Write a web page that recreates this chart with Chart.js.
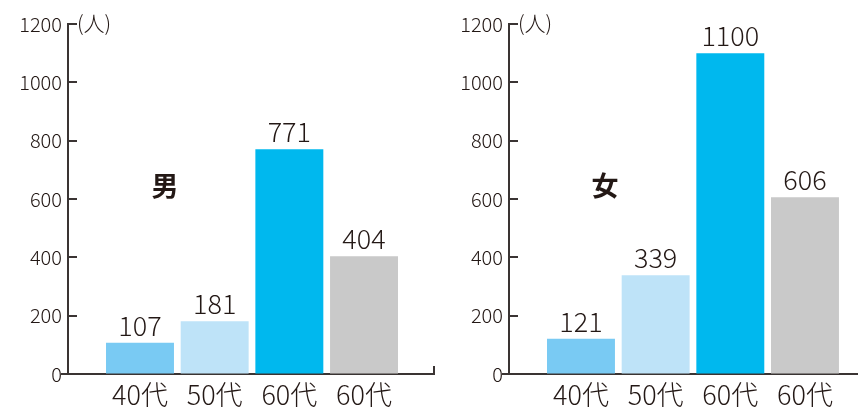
<!DOCTYPE html>
<html>
<head>
<meta charset="utf-8">
<script src="https://cdn.jsdelivr.net/npm/chart.js@4"></script>
<style>
  body { margin: 0; background: #fff; }
  canvas { position: absolute; top: 0; }
</style>
</head>
<body>
<canvas id="maleChart" width="440" height="409" style="left:0"></canvas>
<canvas id="femaleChart" width="418" height="409" style="left:440px"></canvas>
<script>
var ageLabels = ['40代', '50代', '60代', '60代'];
var maleValues = [107, 181, 771, 404];
var femaleValues = [121, 339, 1100, 606];
var yTicks = [0, 200, 400, 600, 800, 1000, 1200];
var unitLabel = '(人)';

var barColors = ['#79caf3', '#bee3f8', '#00b8ee', '#c9c9c9'];
var axisColor = '#3a3433';
var textColor = '#231815';
var fontFamily = '"Noto Sans CJK JP", "Noto Sans", sans-serif';

function makeChart(id, values, title, opts) {
    var decor = {
        id: 'decor',
        afterDatasetsDraw: function (chart) {
            var ctx = chart.ctx;
            var meta = chart.getDatasetMeta(0);
            ctx.save();
            ctx.font = '300 27px ' + fontFamily;
            ctx.fillStyle = textColor;
            ctx.textAlign = 'center';
            ctx.textBaseline = 'alphabetic';
            meta.data.forEach(function (bar, i) {
                ctx.fillText(String(values[i]), bar.x, bar.y - 7);
            });
            ctx.restore();
        },
        afterDraw: function (chart) {
            var ctx = chart.ctx;
            var y = chart.scales.y;
            var area = chart.chartArea;
            ctx.save();
            ctx.strokeStyle = axisColor;
            ctx.lineWidth = 2;
            ctx.beginPath();
            y.ticks.forEach(function (t) {
                var py = Math.round(y.getPixelForValue(t.value));
                ctx.moveTo(area.left - 1, py);
                ctx.lineTo(area.left + 9, py);
            });
            ctx.moveTo(area.left - 7, area.bottom);
            ctx.lineTo(area.left, area.bottom);
            if (opts.endTick) {
                ctx.moveTo(area.right, area.bottom + 1);
                ctx.lineTo(area.right, area.bottom - 8);
            }
            ctx.stroke();

            ctx.fillStyle = textColor;
            ctx.font = '300 21px ' + fontFamily;
            ctx.textAlign = 'left';
            ctx.textBaseline = 'middle';
            ctx.fillText(unitLabel, area.left + 9, y.getPixelForValue(1200) - 1);

            ctx.font = 'bold 27px ' + fontFamily;
            ctx.textAlign = 'center';
            ctx.fillText(title, 165, 186);
            ctx.restore();
        }
    };

    return new Chart(document.getElementById(id), {
        type: 'bar',
        data: {
            datasets: [{
                data: values.map(function (v, i) { return { x: i, y: v }; }),
                backgroundColor: barColors,
                barPercentage: 0.91,
                categoryPercentage: 1
            }]
        },
        options: {
            responsive: false,
            animation: false,
            layout: { padding: { top: 24, right: opts.padRight, left: 0, bottom: 0 } },
            plugins: { legend: { display: false }, tooltip: { enabled: false } },
            scales: {
                x: {
                    type: 'linear',
                    offset: false,
                    min: -0.964,
                    max: opts.xMax,
                    afterFit: function (s) { s.height = 35; },
                    grid: { display: true, drawOnChartArea: false, drawTicks: false, offset: false },
                    border: { color: axisColor, width: 2 },
                    ticks: {
                        stepSize: 1,
                        includeBounds: false,
                        autoSkip: false,
                        maxRotation: 0,
                        padding: 5,
                        color: textColor,
                        font: { family: fontFamily, size: 27, weight: 300 },
                        callback: function (v) {
                            return Number.isInteger(v) && ageLabels[v] ? ageLabels[v] : '';
                        }
                    }
                },
                y: {
                    min: 0,
                    max: 1200,
                    afterFit: function (s) { s.width = opts.axisLeft; },
                    afterBuildTicks: function (s) {
                        s.ticks = yTicks.map(function (v) { return { value: v }; });
                    },
                    grid: { display: true, drawOnChartArea: false, drawTicks: false },
                    border: { color: axisColor, width: 2 },
                    ticks: {
                        padding: 6,
                        color: textColor,
                        font: { family: fontFamily, size: 20, weight: 300 },
                        callback: function (v) { return String(v); }
                    }
                }
            }
        },
        plugins: [decor]
    });
}

makeChart('maleChart', maleValues, '男', { xMax: 3.937, padRight: 6, axisLeft: 68, endTick: true });
makeChart('femaleChart', femaleValues, '女', { xMax: 3.71, padRight: 0, axisLeft: 69, endTick: false });
</script>
</body>
</html>
